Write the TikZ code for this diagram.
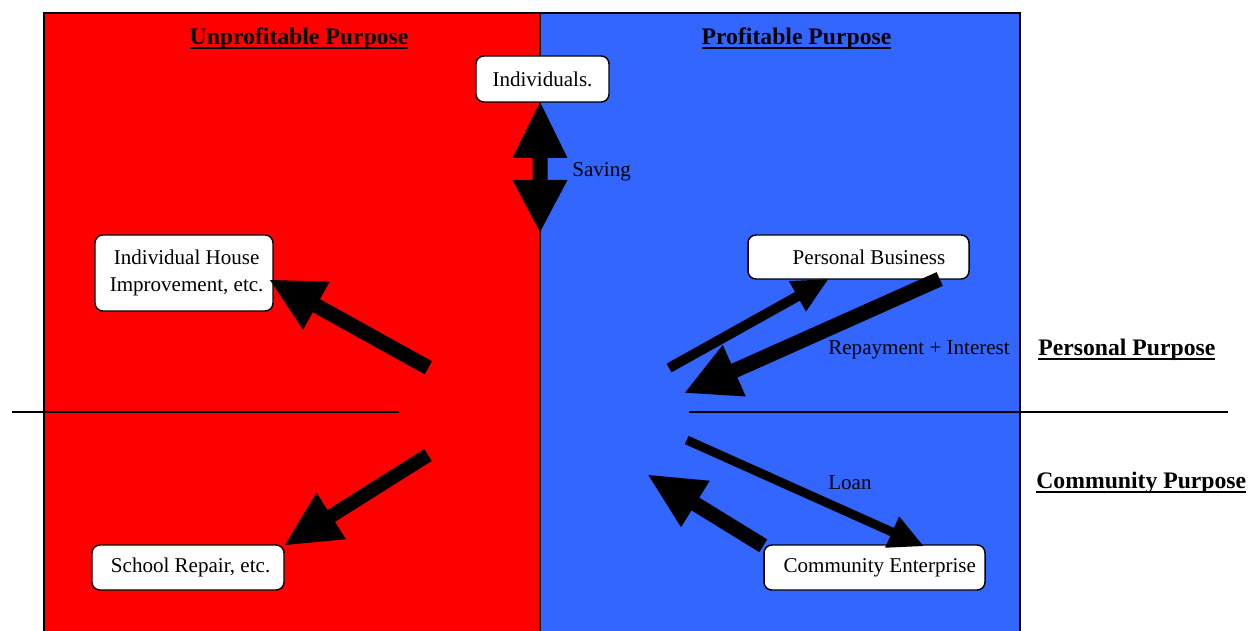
\documentclass[tikz,border=0pt]{standalone}
\usepackage{fontspec}
\setmainfont{Liberation Serif}
\usetikzlibrary{calc}
\definecolor{redzone}{RGB}{255,0,0}
\definecolor{bluezone}{RGB}{51,102,255}
\newcommand\blockarrow[5]{%
  \pgfmathsetlengthmacro\baH{#3*0.285pt}%
  \pgfmathsetlengthmacro\baW{#4*0.285pt}%
  \pgfmathsetlengthmacro\baL{#5*0.57pt}%
  \coordinate (ba) at ($(#2)!\baL!(#1)$);
  \fill[black] ($(#1)!\baH!90:(#2)$) -- ($(ba)!\baH!90:(#2)$) -- ($(ba)!\baW!90:(#2)$)
    -- (#2) -- ($(ba)!\baW!-90:(#2)$) -- ($(ba)!\baH!-90:(#2)$) -- ($(#1)!\baH!-90:(#2)$) -- cycle;
}
\newcommand\thickul[1]{\setbox0\hbox{#1}\leavevmode\rlap{\rule[-2.6pt]{\wd0}{1.1pt}}\box0}
\begin{document}
\begin{tikzpicture}[x=0.57pt,y=-0.57pt,
  box/.style={draw=black,fill=white,line width=0.85pt,rounded corners=4.5pt,
    inner sep=0pt,align=center,font=\fontsize{12}{15}\selectfont},
  lbl/.style={inner sep=0pt,anchor=west,font=\fontsize{12}{14}\selectfont},
  head/.style={inner sep=0pt,font=\fontsize{13.5}{16}\selectfont\bfseries},
  rule/.style={line width=0.85pt}]
\useasboundingbox (0,0) rectangle (1251,631);
% zones
\fill[redzone] (44,13) rectangle (540,631);
\fill[bluezone] (540,13) rectangle (1020,631);
\draw[rule] (44,631) -- (44,13) -- (1020,13) -- (1020,631);
\draw[rule] (540,13) -- (540,631);
% horizontal dividers
\coordinate (hl1) at (12,412);
\coordinate (hl2) at (399,412);
\coordinate (hr1) at (689,412);
\coordinate (hr2) at (1228,412);
\draw[rule] (hl1) -- (hl2);
\draw[rule] (hr1) -- (hr2);
% headings
\node[head] (hu) at (299,39) {\thickul{Unprofitable Purpose}};
\node[head] (hp) at (796.5,39) {\thickul{Profitable Purpose}};
\node[head,anchor=west] (hpp) at (1038,350) {\thickul{Personal Purpose}};
\node[head,anchor=west] (hcp) at (1036,483) {\thickul{Community Purpose}};
% boxes
\node[box,minimum width=133*0.57pt,minimum height=46*0.57pt] (ind) at (542.5,79) {Individuals.};
\node[box,minimum width=178*0.57pt,minimum height=76*0.57pt] (house) at (184,273) {\hspace*{3pt}Individual House\\\hspace*{3pt}Improvement, etc.};
\node[box,minimum width=192*0.57pt,minimum height=45*0.57pt] (school) at (188,567.5) {\hspace*{3pt}School Repair, etc.\rule[-1.5pt]{0pt}{1pt}};
\node[box,minimum width=221*0.57pt,minimum height=44*0.57pt] (pb) at (858.5,257) {\hspace*{12pt}Personal Business};
\node[box,minimum width=221*0.57pt,minimum height=45*0.57pt] (ce) at (874.5,567.5) {\hspace*{6pt}Community Enterprise\rule[-1.5pt]{0pt}{1pt}};
% labels
\node[lbl] (sav) at (572,172) {Saving};
\node[lbl] (rep) at (828,350) {Repayment + Interest};
\node[lbl] (loan) at (828,483) {Loan};
% saving double arrow
\coordinate (sv1) at (540,102);
\coordinate (sv2) at (540,232);
\fill[black] (sv1) -- ++(27.5,56) -- ++(-20,0) -- ++(0,22) -- ++(20,0) -- (sv2)
  -- ++(-27.5,-52) -- ++(20,0) -- ++(0,-22) -- ++(-20,0) -- cycle;
% arrow end points
\coordinate (t1) at (428.3,367.8); \coordinate (e1) at (270,280);
\coordinate (t2) at (428,455);     \coordinate (e2) at (285,545);
\coordinate (t3) at (669,368);     \coordinate (e3) at (828,279.3);
\coordinate (t4) at (939.7,279);   \coordinate (e4) at (685,392.7);
\coordinate (t5) at (686.7,440);   \coordinate (e5) at (923.3,546);
\coordinate (t6) at (763.3,545.8); \coordinate (e6) at (648.3,475);
\blockarrow{t1}{e1}{15}{55}{53}
\blockarrow{t2}{e2}{14}{55}{54.6}
\blockarrow{t3}{e3}{10}{35}{35}
\blockarrow{t4}{e4}{15}{56.5}{54}
\blockarrow{t5}{e5}{9}{34.4}{34.2}
\blockarrow{t6}{e6}{15}{54.6}{55.3}
\end{tikzpicture}
\end{document}
